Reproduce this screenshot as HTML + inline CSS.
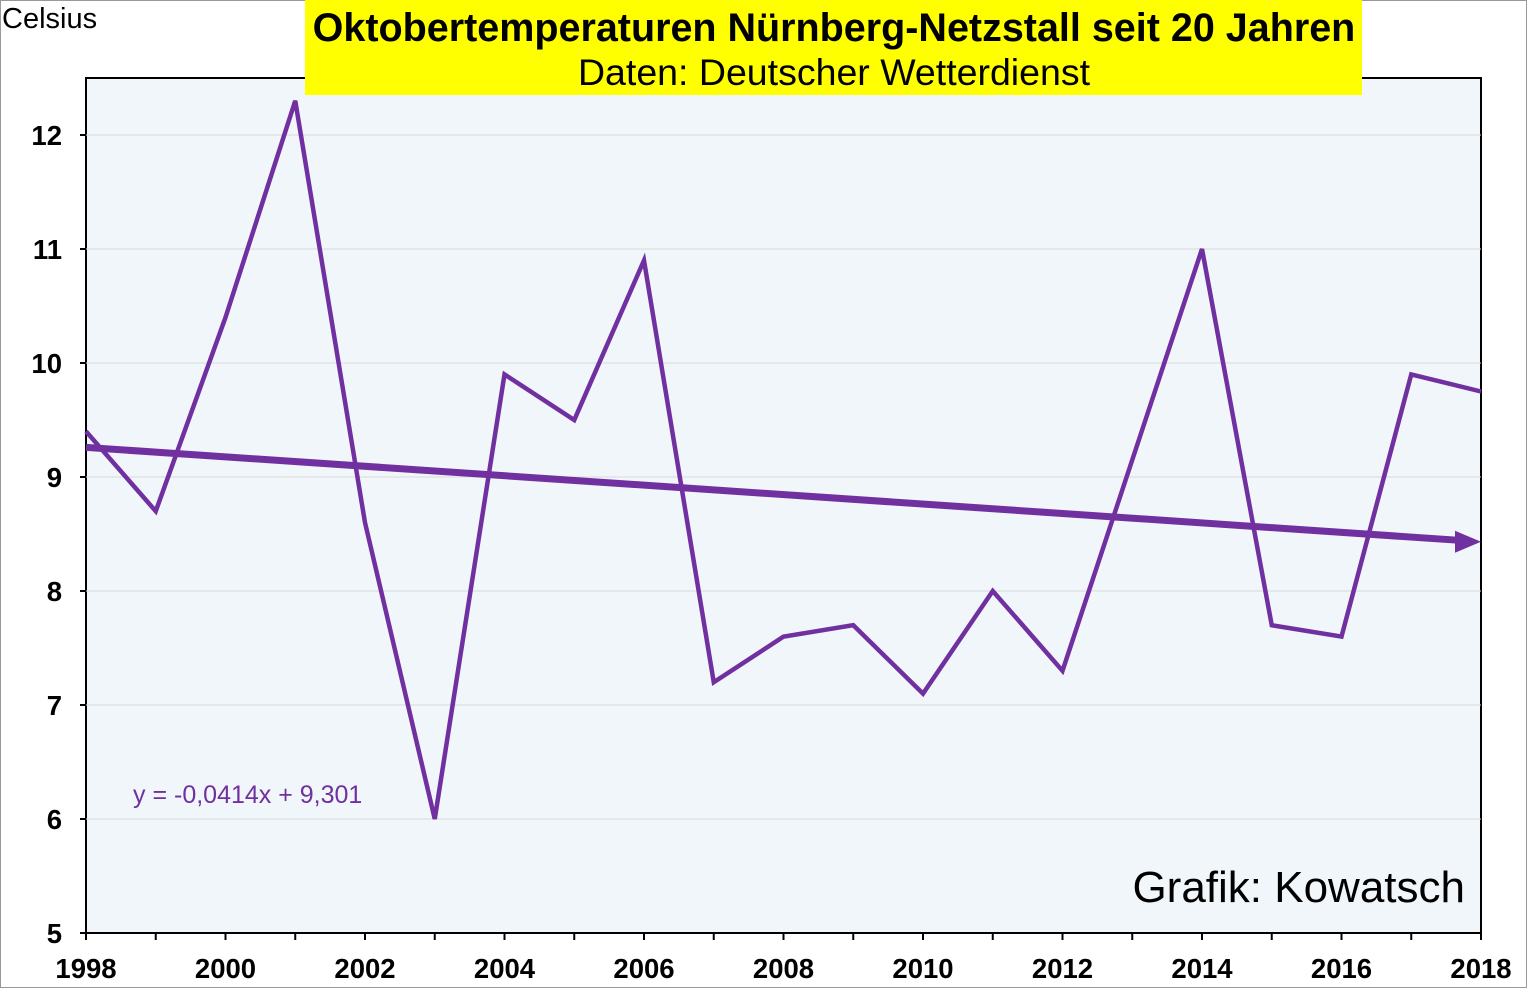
<!DOCTYPE html>
<html><head><meta charset="utf-8"><style>
html,body{margin:0;padding:0;background:#fff;}
body{width:1527px;height:988px;overflow:hidden;font-family:"Liberation Sans",Arial,sans-serif;}
</style></head><body>
<svg id="chart" width="1527" height="988" xmlns="http://www.w3.org/2000/svg" font-family="Liberation Sans, Arial, sans-serif">
<rect x="0.5" y="0.5" width="1526" height="987" fill="#fff" stroke="#999" stroke-width="1"/>
<rect x="86" y="78" width="1395" height="855" fill="#f1f6fa" stroke="#000" stroke-width="2"/>
<g id="grid"></g>
<g id="ticks"></g>
<g id="series"></g>
<rect x="305" y="0" width="1057" height="95" fill="#ffff00"/>
<text x="834" y="41" text-anchor="middle" font-size="39.5" font-weight="bold">Oktobertemperaturen Nürnberg-Netzstall seit 20 Jahren</text>
<text x="834" y="85" text-anchor="middle" font-size="37.5">Daten: Deutscher Wetterdienst</text>
<text x="2" y="28" font-size="29">Celsius</text>
<text x="133" y="803" font-size="25" fill="#7030a0">y = -0,0414x + 9,301</text>
<text x="1465" y="902" text-anchor="end" font-size="44">Grafik: Kowatsch</text>
</svg>
<script>
const years=[1998,1999,2000,2001,2002,2003,2004,2005,2006,2007,2008,2009,2010,2011,2012,2013,2014,2015,2016,2017,2018];
const temps=[9.4,8.7,10.4,12.3,8.6,6.0,9.9,9.5,10.9,7.2,7.6,7.7,7.1,8.0,7.3,9.15,11.0,7.7,7.6,9.9,9.75];
const yTicks=[5,6,7,8,9,10,11,12];
const xTicks=[1998,2000,2002,2004,2006,2008,2010,2012,2014,2016,2018];
const trendSlope=-0.0414, trendIntercept=9.301;
const NS="http://www.w3.org/2000/svg";
const X=v=>86+(v-1998)*(1395/20);
const Y=v=>933-(v-5)*114;
function mk(tag,attrs,parent){const e=document.createElementNS(NS,tag);for(const k in attrs)e.setAttribute(k,attrs[k]);parent.appendChild(e);return e;}
const grid=document.getElementById('grid'),ticks=document.getElementById('ticks'),series=document.getElementById('series');
yTicks.forEach(t=>{
 if(t>5){const g=mk('line',{x1:86,x2:1481,y1:Y(t),y2:Y(t),stroke:'#d9d9d9','stroke-width':1},grid);
 
 }
 const tk=mk('line',{x1:80,x2:86,y1:Y(t),y2:Y(t),stroke:'#000','stroke-width':2},ticks);
 
 
 const l=mk('text',{x:62,y:Y(t)+10,'text-anchor':'end','font-size':27.5,'font-weight':'bold'},ticks);
 l.textContent=t;
 
 
});
years.forEach(yr=>{
 const tk=mk('line',{x1:X(yr),x2:X(yr),y1:933,y2:940,stroke:'#000','stroke-width':2},ticks);
 
 
});
xTicks.forEach(yr=>{
 const l=mk('text',{x:X(yr),y:978,'text-anchor':'middle','font-size':27.5,'font-weight':'bold'},ticks);
 l.textContent=yr;
 
 
});
const pl=mk('polyline',{points:years.map((yr,i)=>X(yr)+','+Y(temps[i])).join(' '),fill:'none',stroke:'#7030a0','stroke-width':4.5,'stroke-linejoin':'miter'},series);


const t0=trendIntercept+trendSlope*1, t1=trendIntercept+trendSlope*years.length;
const x0=X(years[0]), x1=X(years[years.length-1]);
const tl=mk('line',{x1:x0,y1:Y(t0),x2:x1-20,y2:Y(t1)+((Y(t0)-Y(t1))*20/(x1-x0)),stroke:'#7030a0','stroke-width':7},series);


const ay=Y(t1);
const ah=mk('polygon',{points:`${x1},${ay} ${x1-26},${ay-11} ${x1-26},${ay+11}`,fill:'#7030a0'},series);


</script>
</body></html>
